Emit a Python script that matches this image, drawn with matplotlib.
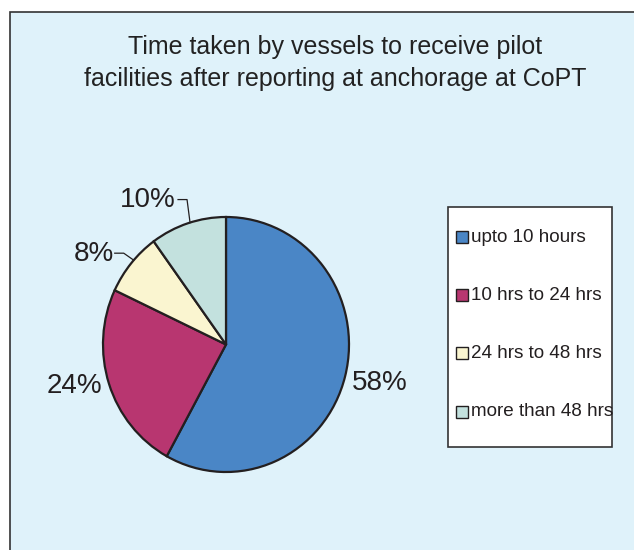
import matplotlib
matplotlib.use("Agg")
import matplotlib.pyplot as plt
import numpy as np
from matplotlib.patches import Rectangle

plt.rcParams['font.family'] = ['Liberation Sans', 'DejaVu Sans']

title = "Time taken by vessels to receive pilot\nfacilities after reporting at anchorage at CoPT"
categories = ["upto 10 hours", "10 hrs to 24 hrs", "24 hrs to 48 hrs", "more than 48 hrs"]
values = [58, 24, 8, 10]
colors = ["#4a86c6", "#b83670", "#faf5d0", "#c3e1de"]

W, H = 634, 550
fig = plt.figure(figsize=(W / 100, H / 100), dpi=100, facecolor="white")

# background panel
bg = fig.add_axes([0, 0, 1, 1], zorder=0)
bg.set_xlim(0, W)
bg.set_ylim(H, 0)
bg.axis("off")
bg.add_patch(Rectangle((10, 12), W, H, facecolor="#dff2fa", edgecolor="#333333", linewidth=1.2))

bg.text(335, 63, title, ha="center", va="center", fontsize=18, color="#222222", linespacing=1.45)

# legend drawn manually in pixel coords
bg.add_patch(Rectangle((448, 207), 164, 240, facecolor="white", edgecolor="#333333", linewidth=1.2))
for i, (lab, c) in enumerate(zip(categories, colors)):
    yc = 237 + i * 58.2
    bg.add_patch(Rectangle((456, yc - 6), 12, 12, facecolor=c, edgecolor="#231f20", linewidth=1.0))
    bg.text(471, yc, lab, ha="left", va="center", fontsize=13.6, color="#231f20")

# pie axes (slightly elliptical as in the reference)
cx, cy, rx, ry = 226, 344.5, 123, 127.5
ax = fig.add_axes([(cx - rx) / W, 1 - (cy + ry) / H, 2 * rx / W, 2 * ry / H], zorder=2)
ax.set_facecolor("none")
wedges, _ = ax.pie(values, colors=colors, startangle=90, counterclock=False,
                   wedgeprops=dict(edgecolor="#231f20", linewidth=1.6), radius=1)
ax.set_xlim(-1.0, 1.0)
ax.set_ylim(-1.0, 1.0)
ax.set_aspect("auto")
ax.axis("off")

def px(dx, dy):
    """pixel offsets -> data offsets (dy positive = up)"""
    return dx / rx, dy / ry

for i, (w, v) in enumerate(zip(wedges, values)):
    mid = np.deg2rad((w.theta1 + w.theta2) / 2)
    lab = f"{v}%"
    if i == 0:
        ax.text(1.29 * np.cos(mid), 1.22 * np.sin(mid), lab, ha="center", va="center",
                fontsize=20, color="#231f20", clip_on=False)
    elif i == 1:
        ax.text(1.295 * np.cos(mid), 1.0 * np.sin(mid) - 0.02, lab, ha="center", va="center",
                fontsize=20, color="#231f20", clip_on=False)
    else:
        ang = np.deg2rad(107 if i == 3 else 138.6)
        ex, ey = np.cos(ang), np.sin(ang)
        if i == 3:
            e1, e2, t = px(-3, 23), px(-12, 23), px(-14, 23)
        else:
            e1, e2, t = px(-10, 7), px(-19, 7), px(-20, 6)
        ax.plot([ex, ex + e1[0], ex + e2[0]], [ey, ey + e1[1], ey + e2[1]], color="#231f20",
                lw=0.9, clip_on=False)
        ax.text(ex + t[0], ey + t[1], lab, ha="right", va="center", fontsize=20,
                color="#231f20", clip_on=False)

fig.savefig("out.png", dpi=100, facecolor="white")
